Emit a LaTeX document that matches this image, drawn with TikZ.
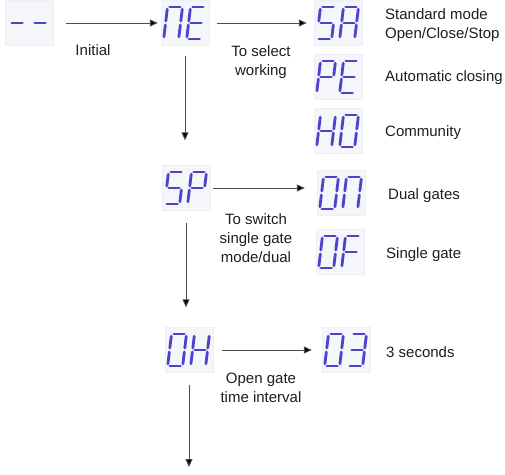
\documentclass[tikz,border=0pt]{standalone}
\usepackage{fontspec}
\setmainfont{Liberation Sans}
\usepackage{xcolor}
\usepackage{tikz}
\usetikzlibrary{arrows.meta,calc,positioning}

\definecolor{segblue}{RGB}{78,66,205}
\definecolor{boxbg}{RGB}{245,246,250}
\definecolor{boxedge}{RGB}{238,239,244}
\definecolor{txtgrey}{RGB}{30,30,30}

\tikzset{
  seg/.style={draw=segblue,line width=2.8pt,line cap=round},
  dispbox/.style={fill=boxbg,draw=boxedge,line width=0.4pt,minimum width=48pt,minimum height=45pt,inner sep=0pt},
  lbl/.style={font=\fontsize{15}{19}\selectfont,text=txtgrey,inner sep=0pt},
  flow/.style={draw=black!70,line width=0.9pt,-{Triangle[length=8pt,width=7pt,fill=black]}},
}

% one slanted seven-segment digit, top-left corner at (#1,#2)
\newcommand\segchar[3]{%
  \begin{scope}[shift={(#1,#2)},xslant=0.12]
    \coordinate (a1) at (2.2,0);   \coordinate (a2) at (12.8,0);
    \coordinate (b1) at (15,2.2);  \coordinate (b2) at (15,14);
    \coordinate (c1) at (15,18);   \coordinate (c2) at (15,29.8);
    \coordinate (d1) at (2.2,32);  \coordinate (d2) at (12.8,32);
    \coordinate (e1) at (0,18);    \coordinate (e2) at (0,29.8);
    \coordinate (f1) at (0,2.2);   \coordinate (f2) at (0,14);
    \coordinate (g1) at (2.2,16);  \coordinate (g2) at (12.8,16);
    \foreach \s in {#3}{\draw[seg] (\s1) -- (\s2);}
  \end{scope}}

% two-digit display named #1, centred at (#2,#3)
\newcommand\segdisp[5]{%
  \node[dispbox] (#1) at (#2,#3) {};
  \segchar{#2-17.5}{#3-16}{#4}
  \segchar{#2+5.5}{#3-16}{#5}}

\begin{document}
\begin{tikzpicture}[x=1pt,y=-1pt]
  \useasboundingbox (0,0) rectangle (505,474);

  % displays
  \segdisp{dash}{29}{23}{g}{g}
  \segdisp{ne}{185}{23}{a,b,c,e,f}{a,d,e,f,g}
  \segdisp{sa}{338}{23}{a,c,d,f,g}{a,b,c,e,f,g}
  \segdisp{pe}{338}{77}{a,b,e,f,g}{a,d,e,f,g}
  \segdisp{ho}{338}{131}{b,c,e,f,g}{a,b,c,d,e,f}
  \segdisp{sp}{186}{188}{a,c,d,f,g}{a,b,e,f,g}
  \segdisp{on}{341}{193}{a,b,c,d,e,f}{a,b,c,e,f}
  \segdisp{of}{340}{252}{a,b,c,d,e,f}{a,e,f,g}
  \segdisp{oh}{189}{350}{a,b,c,d,e,f}{b,c,e,f,g}
  \segdisp{three}{346}{350}{a,b,c,d,e,f}{a,b,c,d,g}
  \coordinate (next) at (189,467);

  % connectors
  \draw[flow,shorten <=13pt,shorten >=3pt] (dash) -- (ne);
  \draw[flow,shorten <=8pt,shorten >=7pt] (ne) -- (sa);
  \draw[flow,shorten <=10pt,shorten >=25pt] (ne.south) -- (ne.south |- sp.north);
  \draw[flow,shorten <=3pt,shorten >=12pt] (sp.east) -- (sp.east -| on.west);
  \draw[flow,shorten <=12pt,shorten >=20pt] (sp.south) -- (sp.south |- oh.north);
  \draw[flow,shorten <=9pt,shorten >=10pt] (oh) -- (three);
  \draw[flow,shorten <=12pt] (oh.south) -- (next);

  % labels
  \node[lbl] (initial) at (93,50) {Initial};
  \node[lbl,align=center] (selnote) at (261,62) {To select\\working};
  \node[lbl,align=center] (swnote) at (256,238) {To switch\\single gate\\mode/dual};
  \node[lbl,align=center] (gapnote) at (261,388) {Open gate\\time interval};
  \node[lbl,anchor=west,align=left] (satext) at (385,25) {Standard mode\\Open/Close/Stop};
  \node[lbl,anchor=west] (petext) at (385,78) {Automatic closing};
  \node[lbl,anchor=west] (hotext) at (385,133) {Community};
  \node[lbl,anchor=west] (ontext) at (388,196) {Dual gates};
  \node[lbl,anchor=west] (oftext) at (386,255) {Single gate};
  \node[lbl,anchor=west] (threetext) at (386,352) {3 seconds};
\end{tikzpicture}
\end{document}
